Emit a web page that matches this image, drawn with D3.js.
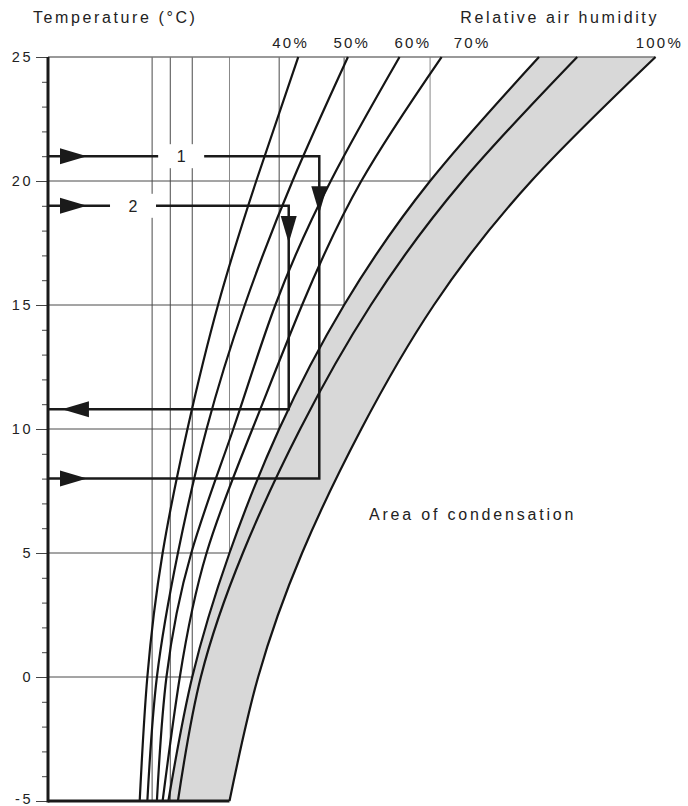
<!DOCTYPE html>
<html>
<head>
<meta charset="utf-8">
<script src="https://cdn.jsdelivr.net/npm/d3@7/dist/d3.min.js"></script>
<style>
  body { margin: 0; background: #fff; }
  svg { display: block; font-family: 'Liberation Sans', Arial, Helvetica, sans-serif; }
</style>
</head>
<body>
<svg width="688" height="806"></svg>
<script>
// temperatures (°C) at which the curves were read
const temps = [-5, 0, 5, 10, 15, 20, 25];

// water vapour content (g/m³) of each curve, read at the temperatures above
const rh40 = [2.1, 2.5, 3.3, 4.6, 6.2, 8.2, 10.4];
const rh50 = [2.5, 3.0, 4.1, 5.6, 7.6, 10.1, 13.0];
const rh60 = [3.0, 3.5, 4.8, 7.0, 9.2, 12.1, 15.7];
const rh70 = [3.3, 4.2, 5.6, 8.0, 10.6, 13.7, 17.9];
const bandLow = [3.6, 4.85, 6.8, 9.4, 12.8, 17.3, 23.0];
const bandMid = [4.1, 5.3, 7.5, 10.5, 14.2, 19.0, 25.0];
const bandHigh = [6.8, 8.3, 10.6, 13.7, 17.5, 22.6, 29.1];

// humidity labels above the curves
const rhLabels = ['40%', '50%', '60%', '70%', '100%'];
const rhLabelX = [10.0, 13.2, 16.4, 19.5, 29.3];

// y ticks
const yTicks = [-5, 0, 5, 10, 15, 20, 25];
const yMinor = [-5,-4,-3,-2,-1,0,1,2,3,4,5,6,7,8,9,10,11,12,13,14,15,16,17,18,19,20,21,22,23,24,25];

// grid: horizontal line at temp t runs out to x, vertical at x runs down to t
const gridTemps = [20, 15, 10, 5, 0, -5, -5];
const gridX = [17.3, 12.8, 9.4, 6.8, 4.85, 3.7, 2.75];

// worked examples: start temp, vapour content, end temp, label position
const exLabels = ['1', '2'];
const exStart = [21, 19];
const exX = [11.5, 9.9];
const exEnd = [8, 10.8];
const exLabelX = [4.27, 1.75];
const exDownTip = [18.7, 17.5];
const exEndDir = ['right', 'left'];

(function (d3) {
  'use strict';

  const svg = d3.select('svg');
  const width = +svg.attr('width');
  const height = +svg.attr('height');

  const xScale = d3.scaleLinear().domain([-2.7, 30.8]).range([48, 688]);
  const yScale = d3.scaleLinear().domain([-5, 25]).range([801, 57]);
  const x0 = xScale.domain()[0];

  const g = svg.append('g');

  const toPts = arr => arr.map((c, i) => ({ t: temps[i], c: c }));
  const curves = [rh40, rh50, rh60, rh70, bandLow, bandMid, bandHigh].map(toPts);

  const line = d3.line()
    .x(d => xScale(d.c))
    .y(d => yScale(d.t))
    .curve(d3.curveNatural);

  const area = d3.area()
    .y(d => yScale(d.t))
    .x0(d => xScale(d.lo))
    .x1(d => xScale(d.hi))
    .curve(d3.curveNatural);

  // grey band
  g.append('path')
    .datum(temps.map((t, i) => ({ t: t, lo: bandLow[i], hi: bandHigh[i] })))
    .attr('fill', '#d8d8d8')
    .attr('d', area);

  // grid
  const grid = g.append('g').attr('stroke', '#4a4a4a').attr('stroke-width', 1);
  gridTemps.forEach((t, i) => {
    if (t > -5) {
      grid.append('line')
        .attr('x1', xScale(x0)).attr('x2', xScale(gridX[i]))
        .attr('y1', yScale(t)).attr('y2', yScale(t));
    }
    grid.append('line')
      .attr('x1', xScale(gridX[i])).attr('x2', xScale(gridX[i]))
      .attr('y1', yScale(25)).attr('y2', yScale(t))
      .attr('stroke', (i === 0 || i === 3) ? '#888' : null);
  });
  grid.append('line')
    .attr('stroke', '#777')
    .attr('stroke-width', 1.5)
    .attr('x1', xScale(x0)).attr('x2', xScale(bandHigh[bandHigh.length - 1]))
    .attr('y1', yScale(25)).attr('y2', yScale(25));

  // example arrows
  const ex = g.append('g');
  const arrowHead = (tx, ty, dir) => {
    const L = 27, W = 8;
    let pts;
    if (dir === 'right') pts = [[tx, ty], [tx - L, ty - W], [tx - L, ty + W]];
    else if (dir === 'left') pts = [[tx, ty], [tx + L, ty - W], [tx + L, ty + W]];
    else pts = [[tx, ty], [tx - W, ty - L], [tx + W, ty - L]];
    ex.append('path')
      .attr('d', 'M' + pts.join('L') + 'Z')
      .attr('fill', '#1a1a1a');
  };

  exLabels.forEach((lab, i) => {
    const pts = [[x0, exStart[i]], [exX[i], exStart[i]], [exX[i], exEnd[i]], [x0, exEnd[i]]];
    ex.append('path')
      .attr('d', d3.line().x(d => xScale(d[0])).y(d => yScale(d[1]))(pts))
      .attr('fill', 'none')
      .attr('stroke', '#1a1a1a')
      .attr('stroke-width', 2.5);
    ex.append('rect')
      .attr('x', xScale(exLabelX[i]) - 23)
      .attr('y', yScale(exStart[i]) - 12)
      .attr('width', 46)
      .attr('height', 24)
      .attr('fill', '#fff');
    ex.append('text')
      .attr('x', xScale(exLabelX[i]))
      .attr('y', yScale(exStart[i]) + 6)
      .attr('text-anchor', 'middle')
      .attr('font-size', 16)
      .attr('fill', '#222')
      .text(lab);
    arrowHead(xScale(-0.66), yScale(exStart[i]), 'right');
    arrowHead(xScale(exX[i]), yScale(exDownTip[i]), 'down');
    if (exEndDir[i] === 'right') arrowHead(xScale(-0.66), yScale(exEnd[i]), 'right');
    else arrowHead(xScale(-1.97), yScale(exEnd[i]), 'left');
  });

  // humidity curves
  g.selectAll('.curve').data(curves)
    .enter().append('path')
      .attr('class', 'curve')
      .attr('d', line)
      .attr('fill', 'none')
      .attr('stroke', '#151515')
      .attr('stroke-width', 2.2);

  // bottom line
  g.append('line')
    .attr('x1', xScale(x0)).attr('x2', xScale(bandHigh[0]))
    .attr('y1', yScale(-5)).attr('y2', yScale(-5))
    .attr('stroke', '#1a1a1a')
    .attr('stroke-width', 3);

  // y axis
  const minorAxis = d3.axisLeft(yScale)
    .tickValues(yMinor)
    .tickSize(6)
    .tickFormat('');
  const majorAxis = d3.axisLeft(yScale)
    .tickValues(yTicks)
    .tickSize(12)
    .tickPadding(3)
    .tickFormat(d => String(d));

  const minorG = g.append('g')
    .attr('transform', `translate(${xScale(x0)},0)`)
    .call(minorAxis);
  minorG.select('.domain').remove();
  minorG.selectAll('line').attr('stroke', '#444');

  const majorG = g.append('g')
    .attr('transform', `translate(${xScale(x0)},0)`)
    .call(majorAxis);
  majorG.select('.domain').remove();
  majorG.selectAll('line').attr('stroke', '#444');
  majorG.selectAll('text')
    .attr('font-size', 14.5)
    .attr('letter-spacing', 2.5)
    .attr('fill', '#222')
    .attr('dy', d => d === -5 ? '0.15em' : '0.32em')
    .attr('font-family', "'Liberation Sans', Arial, sans-serif");

  g.append('line')
    .attr('x1', xScale(x0)).attr('x2', xScale(x0))
    .attr('y1', yScale(25)).attr('y2', yScale(-5) + 1.5)
    .attr('stroke', '#1a1a1a')
    .attr('stroke-width', 3);

  // titles
  g.append('text')
    .attr('x', 33).attr('y', 23)
    .attr('font-size', 16)
    .attr('letter-spacing', 2.6)
    .attr('fill', '#222')
    .text('Temperature (°C)');

  g.append('text')
    .attr('x', 659).attr('y', 23)
    .attr('text-anchor', 'end')
    .attr('font-size', 16)
    .attr('letter-spacing', 2.6)
    .attr('fill', '#222')
    .text('Relative air humidity');

  g.selectAll('.rhLabel').data(rhLabels)
    .enter().append('text')
      .attr('class', 'rhLabel')
      .attr('x', (d, i) => xScale(rhLabelX[i]))
      .attr('y', 48)
      .attr('text-anchor', 'middle')
      .attr('font-size', 15)
      .attr('letter-spacing', 2.2)
      .attr('fill', '#222')
      .text(d => d);

  g.append('text')
    .attr('x', xScale(14.1)).attr('y', yScale(6.33))
    .attr('font-size', 16)
    .attr('letter-spacing', 2.8)
    .attr('fill', '#222')
    .text('Area of condensation');

}(d3));
</script>
</body>
</html>
